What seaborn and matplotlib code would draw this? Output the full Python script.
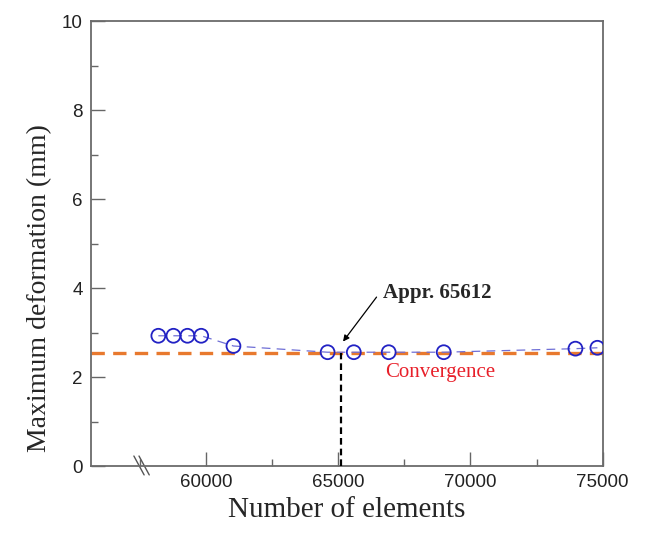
import matplotlib
matplotlib.use("Agg")
import matplotlib.pyplot as plt
import seaborn as sns
import pandas as pd
from matplotlib.ticker import MultipleLocator

# data
elements = [58200, 58770, 59300, 59820, 61040, 64600, 65590, 66910, 68990, 73970, 74800]
deformation = [2.93, 2.93, 2.93, 2.93, 2.70, 2.56, 2.56, 2.56, 2.56, 2.64, 2.66]
convergence_value = 2.54
converged_elements = 65100
x_ticks = [60000, 65000, 70000, 75000]
y_ticks = [0, 2, 4, 6, 8, 10]

df = pd.DataFrame({"elements": elements, "deformation": deformation})

sns.set_style("ticks")
plt.rcParams['font.family'] = ['Liberation Sans', 'DejaVu Sans']

fig = plt.figure(figsize=(6.47, 5.34), dpi=100)
ax = fig.add_axes([0.1405, 0.1273, 0.7910, 0.8325])

# convergence line
ax.axhline(convergence_value, color="#E8792E", lw=2.4, ls=(0, (4, 2.5)), zorder=2)

# connecting dashed line
sns.lineplot(data=df, x="elements", y="deformation", ax=ax, color="#6F6FD6",
             lw=0.9, ls=(0, (7, 5)), zorder=3, estimator=None, sort=False)
# markers
sns.scatterplot(data=df, x="elements", y="deformation", ax=ax, marker="o", s=100,
                facecolor="none", edgecolor="#2222C4", linewidth=1.3, zorder=4)

# vertical dashed line at converged element count
ax.plot([converged_elements, converged_elements], [0, convergence_value],
        color="black", lw=1.6, ls=(0, (3, 1.8)), zorder=3)

ax.annotate("", xy=(65183, 2.80), xytext=(66450, 3.80),
            arrowprops=dict(arrowstyle="-|>", color="black", lw=0.9,
                            mutation_scale=9, shrinkA=0, shrinkB=0))
ax.text(66708, 3.90, "Appr. 65612", fontsize=15, fontweight="bold",
        family="Liberation Serif", va="center", ha="left")
ax.text(66780, 2.10, "Convergence", color="#E8202A", fontsize=15,
        family="Liberation Serif", va="center", ha="left")

ax.set_xlim(55650, 75000)
ax.set_ylim(0, 10)
ax.set_xticks(x_ticks)
ax.set_yticks(y_ticks)
ax.xaxis.set_minor_locator(MultipleLocator(2500))
ax.yaxis.set_minor_locator(MultipleLocator(1))
ax.tick_params(which="major", direction="in", length=10, width=1.0, color="#666666",
               labelsize=13.5, labelcolor="#222222", pad=6)
ax.tick_params(which="minor", direction="in", length=5, width=1.0, color="#666666")
for s in ax.spines.values():
    s.set_color("#6b6b6b")
    s.set_linewidth(1.3)

ax.set_xlabel("Number of elements", family="Liberation Serif", fontsize=21, labelpad=4)
ax.set_ylabel("Maximum deformation (mm)", family="Liberation Serif", fontsize=20)
ax.yaxis.set_label_coords(-0.075, 0.40)

# axis break marks
for x0 in (0.084, 0.094):
    ax.plot([x0, x0 + 0.02], [0.0225, -0.020], transform=ax.transAxes,
            color="#555555", lw=1.0, clip_on=False)

fig.savefig("out.png", dpi=100)
